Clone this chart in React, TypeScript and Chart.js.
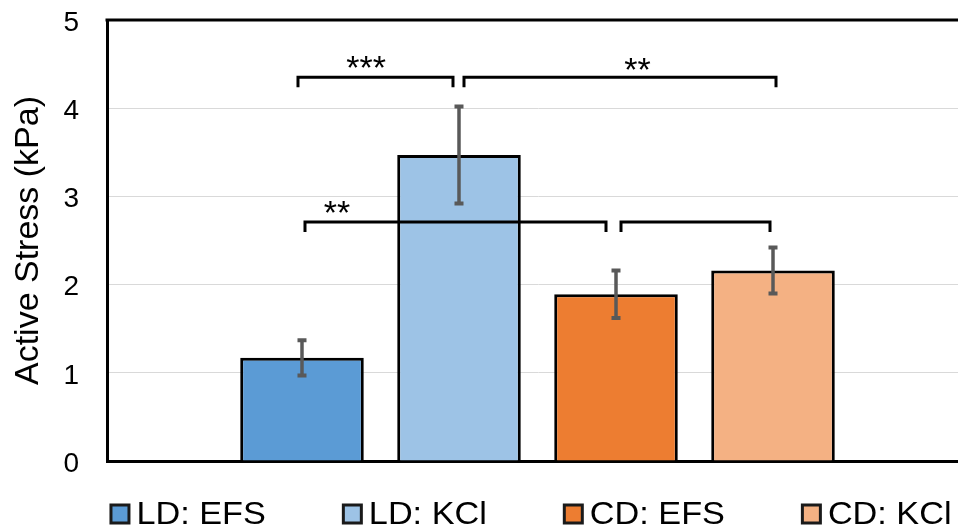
import React, { useEffect, useRef } from "react";
import { Chart, registerables } from "chart.js";

Chart.register(...registerables);

// ---- data ----
const categories = [""];
const seriesNames = ["LD: EFS", "LD: KCl", "CD: EFS", "CD: KCl"];
const seriesValues = [1.17, 3.47, 1.89, 2.16];
const seriesErrors = [0.2, 0.55, 0.27, 0.26];
const seriesColors = ["#5B9BD5", "#9DC3E6", "#ED7D31", "#F4B183"];
const yMin = 0;
const yMax = 5;
const yStep = 1;
const axisTitle = "Active Stress (kPa)";

// significance brackets
const bracketFrom = [0, 1, 0, 2];
const bracketTo = [1, 3, 2, 3];
const bracketY = [4.35, 4.35, 2.71, 2.71];
const bracketLabels = ["***", "**", "**", ""];

// styling for annotations (pixel nudges, not data)
const bracketStartNudge = [-4, 5, 3, 5];
const bracketEndNudge = [-6, 3, -10, -3];
const bracketLabelFrac = [0.44, 0.556, 0.106, 0.5];
const bracketLabelDy = [0, 2, 0, 0];

const FONT = "'Liberation Sans', Arial, sans-serif";

const errorBarPlugin = {
  id: "errorBars",
  afterDatasetsDraw(chart: any) {
    const ctx = chart.ctx;
    const y = chart.scales.y;
    ctx.save();
    ctx.strokeStyle = "#595959";
    seriesValues.forEach((v, i) => {
      const el = chart.getDatasetMeta(i).data[0];
      if (!el) return;
      const x = el.x;
      const yt = y.getPixelForValue(v + seriesErrors[i]);
      const yb = y.getPixelForValue(v - seriesErrors[i]);
      ctx.lineWidth = 3.5;
      ctx.beginPath();
      ctx.moveTo(x, yt);
      ctx.lineTo(x, yb);
      ctx.stroke();
      ctx.lineWidth = 4;
      ctx.beginPath();
      ctx.moveTo(x - 4.5, yt);
      ctx.lineTo(x + 4.5, yt);
      ctx.moveTo(x - 4.5, yb);
      ctx.lineTo(x + 4.5, yb);
      ctx.stroke();
    });
    ctx.restore();
  },
};

const bracketPlugin = {
  id: "brackets",
  afterDraw(chart: any) {
    const ctx = chart.ctx;
    const y = chart.scales.y;
    const area = chart.chartArea;
    ctx.save();
    // top border of plot area
    ctx.strokeStyle = "#000";
    ctx.lineWidth = 3;
    ctx.beginPath();
    ctx.moveTo(area.left - 1.5, area.top);
    ctx.lineTo(area.right, area.top);
    ctx.stroke();

    bracketFrom.forEach((f, k) => {
      const a = chart.getDatasetMeta(f).data[0];
      const b = chart.getDatasetMeta(bracketTo[k]).data[0];
      if (!a || !b) return;
      const x1 = a.x + bracketStartNudge[k];
      const x2 = b.x + bracketEndNudge[k];
      const yy = y.getPixelForValue(bracketY[k]);
      ctx.strokeStyle = "#000";
      ctx.lineWidth = 3;
      ctx.lineJoin = "miter";
      ctx.beginPath();
      ctx.moveTo(x1, yy + 10);
      ctx.lineTo(x1, yy);
      ctx.lineTo(x2, yy);
      ctx.lineTo(x2, yy + 10);
      ctx.stroke();
      if (bracketLabels[k]) {
        ctx.fillStyle = "#000";
        ctx.font = `34px ${FONT}`;
        ctx.textAlign = "center";
        ctx.textBaseline = "alphabetic";
        const lx = x1 + (x2 - x1) * bracketLabelFrac[k];
        ctx.fillText(bracketLabels[k], lx, yy + 2 + bracketLabelDy[k]);
      }
    });

    // legend
    const fontSize = 32;
    const stretch = 1.07;
    ctx.font = `${fontSize}px ${FONT}`;
    const box = 21;
    const boxGap = 6;
    const itemGap = 76;
    const widths = seriesNames.map((n) => box + boxGap + ctx.measureText(n).width * stretch);
    const total = widths.reduce((s, w) => s + w, 0) + itemGap * (widths.length - 1);
    const centerX = (area.left + area.right) / 2 - 7;
    let x = centerX - total / 2;
    const ly = area.bottom + 53;
    ctx.textAlign = "left";
    ctx.textBaseline = "middle";
    seriesNames.forEach((n, i) => {
      ctx.fillStyle = seriesColors[i];
      ctx.fillRect(x + 1.5, ly - box / 2 + 1.5, box - 3, box - 3);
      ctx.strokeStyle = "#1a1a1a";
      ctx.lineWidth = 3;
      ctx.strokeRect(x + 1.5, ly - box / 2 + 1.5, box - 3, box - 3);
      ctx.fillStyle = "#000";
      ctx.save();
      ctx.translate(x + box + boxGap, ly + 1);
      ctx.scale(stretch, 1);
      ctx.fillText(n, 0, 0);
      ctx.restore();
      x += widths[i] + itemGap;
    });
    ctx.restore();
  },
};

export default function App() {
  const ref = useRef<HTMLCanvasElement | null>(null);
  useEffect(() => {
    if (!ref.current) return;
    const chart = new Chart(ref.current, {
      type: "bar",
      data: {
        labels: categories,
        datasets: seriesNames.map((name, i) => ({
          label: name,
          data: [seriesValues[i]],
          backgroundColor: seriesColors[i],
          borderColor: "#000",
          borderWidth: 3,
          borderSkipped: "start",
          categoryPercentage: 0.7294,
          barPercentage: 0.787,
        })),
      },
      options: {
        animation: false,
        responsive: true,
        maintainAspectRatio: false,
        layout: { padding: { left: 0, right: 0, top: 20, bottom: 68 } },
        plugins: {
          legend: { display: false },
          tooltip: { enabled: false },
        },
        scales: {
          x: {
            ticks: { display: false },
            grid: { display: false, drawTicks: false },
            border: { display: true, color: "#000", width: 3 },
          },
          y: {
            min: yMin,
            max: yMax,
            ticks: {
              stepSize: yStep,
              color: "#000",
              font: { size: 28, family: FONT },
              padding: 28,
              labelOffset: 3,
            },
            grid: { color: "#d9d9d9", lineWidth: 1, drawTicks: false },
            border: { display: true, color: "#000", width: 3 },
            title: {
              display: true,
              text: axisTitle,
              color: "#000",
              font: { size: 34, family: FONT },
              padding: { top: 8, bottom: 0 },
            },
            afterFit(scale: any) {
              scale.width = 107;
              scale.paddingTop = 0;
              scale.paddingBottom = 0;
            },
          },
        },
      },
      plugins: [errorBarPlugin, bracketPlugin],
    });
    return () => chart.destroy();
  }, []);
  return (
    <div style={{ position: "fixed", left: 0, top: 0, width: 968, height: 529, background: "#fff" }}>
      <canvas ref={ref} />
    </div>
  );
}
